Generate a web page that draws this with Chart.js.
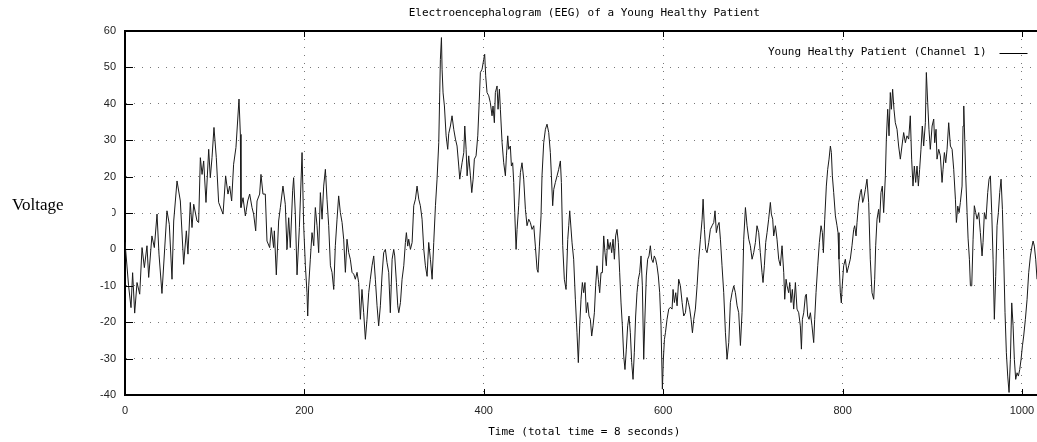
<!DOCTYPE html>
<html>
<head>
<meta charset="utf-8">
<script src="https://cdn.jsdelivr.net/npm/chart.js@4.4.1/dist/chart.umd.min.js"></script>
<style>
  html, body { margin: 0; padding: 0; background: #fff; overflow: hidden; }
  canvas { display: block; }
</style>
</head>
<body>
<canvas id="eeg" width="1045" height="442"></canvas>
<script>
const chartTitle = 'Electroencephalogram (EEG) of a Young Healthy Patient';
const seriesName = 'Young Healthy Patient (Channel 1)';
const xAxisTitle = 'Time (total time = 8 seconds)';
const yAxisTitle = 'Voltage';

const xTickValues = [0, 200, 400, 600, 800, 1000];
const yTickValues = [-40, -30, -20, -10, 0, 10, 20, 30, 40, 50, 60];

// sample index
const times = [
  0, 4, 6.7, 8.5, 10.8, 13.4, 16.4, 19, 21.6, 24.5,
  26.4, 30, 32.7, 35.7, 37.9, 41.2, 46.8, 49.4, 52.4, 54.3,
  58, 61.7, 65.4, 68.4, 70.2, 72.8, 74.7, 76.6, 80.3, 82.1,
  84, 85.9, 87.7, 90.3, 93.3, 95.1, 97, 99.2, 101.8, 104.4,
  109.3, 112.2, 114.8, 116.7, 118.9, 121.1, 123.7, 127.1, 128.6, 129.3,
  131.6, 134.2, 136.8, 139, 141.6, 143.4, 145.7, 147.2, 150.1, 151.6,
  153.8, 156.4, 158.3, 161.3, 163.1, 165.7, 166.5, 168.7, 171.3, 173.2,
  176.1, 178.7, 180.6, 182.5, 184.3, 186.9, 188, 189.9, 191.8, 194.4,
  197.4, 199.2, 201.1, 202.9, 203.7, 204.8, 206.6, 208.5, 210.4, 212.2,
  214.1, 215.9, 217.8, 219.7, 221.5, 223.4, 225.2, 227.1, 229, 230.8,
  232.7, 234.5, 236.4, 238.2, 240.1, 242, 243.8, 245.7, 247.5, 249.4,
  251.2, 253.1, 255, 256.8, 258.7, 260.5, 262.4, 264.2, 266.1, 268,
  269.8, 271.7, 273.5, 275.4, 277.3, 279.1, 281, 282.8, 284.7, 286.5,
  288.4, 290.3, 292.1, 294, 295.8, 297.8, 299.6, 300.7, 302.6, 304.1,
  305.2, 307.1, 308.9, 310.8, 312.6, 313.7, 315.2, 316.3, 318.2, 320.1,
  321.9, 323.8, 325.6, 327.5, 329.3, 331.2, 333.1, 334.9, 336.8, 338.6,
  340.5, 342.4, 344.2, 346.1, 347.9, 349.8, 350.9, 351.6, 352.8, 353.5,
  354.6, 356.1, 358, 359.8, 360.9, 362.8, 364.6, 366.5, 368.4, 370.2,
  372.1, 373.2, 374.7, 375.8, 377.7, 378.8, 380.3, 381.4, 383.2, 385.1,
  386.6, 388.1, 389.5, 391.4, 393.3, 394.7, 396.2, 398.1, 399.9, 401,
  402.1, 403.6, 405.5, 407.3, 409.2, 410.3, 411.8, 412.9, 414.8, 415.9,
  417.4, 418.5, 420.4, 422.2, 424.1, 425.2, 426.7, 427.8, 429.6, 430.8,
  432.2, 433.4, 434.5, 436, 437.1, 438.9, 440.8, 442.6, 444.5, 446.4,
  448.2, 450.1, 451.9, 453.8, 455.7, 457.5, 459.4, 460.5, 462, 463.8,
  464.9, 466.8, 468.7, 470.5, 472.4, 474.2, 475.4, 476.8, 478, 479.8,
  481.7, 483.5, 485.4, 486.5, 488, 489.8, 491.7, 493.6, 494.7, 495.8,
  498.4, 500.2, 502.1, 503.9, 505.4, 506.9, 508.4, 509.9, 511.4, 512.8,
  514.3, 515.8, 517.3, 518.8, 520.3, 521.8, 523.3, 524.7, 526.2, 527.7,
  529.2, 530.7, 532.2, 533.7, 535.1, 536.6, 538.1, 539.6, 541.1, 542.6,
  544.1, 545.6, 547, 548.5, 550, 551.5, 553, 554.5, 556, 557.4,
  558.9, 560.4, 561.9, 563.4, 564.9, 566.4, 567.8, 569.3, 570.8, 572.3,
  573.8, 575.3, 576.8, 578.3, 579.7, 581.2, 582.7, 584.2, 585.7, 587.2,
  588.7, 590.1, 591.6, 593.1, 594.6, 596.1, 597.6, 599.1, 600.2, 601.4,
  602.5, 604.3, 606.2, 608, 609.9, 611, 612.5, 614, 615.5, 617.3,
  619.2, 621.1, 622.9, 624.8, 626.6, 628.1, 629.6, 631.1, 632.6, 634.1,
  635.9, 637.8, 639.6, 641.5, 643.4, 644.5, 646, 647.4, 648.9, 650.8,
  652.6, 654.5, 656.4, 657.8, 659.3, 660.8, 662.3, 663.8, 665.6, 667.5,
  669.4, 671.2, 673.1, 674.9, 676.8, 678.7, 680.5, 682.4, 684.2, 686.1,
  687.9, 689.8, 691.7, 693.5, 695.4, 697.2, 699.1, 700.9, 702.8, 704.6,
  706.5, 708.3, 710.2, 711.3, 712.8, 714.3, 715.8, 717.6, 719.5, 720.6,
  722.1, 723.2, 725.1, 726.9, 728.8, 730.6, 732.5, 734.4, 735.5, 737,
  738.1, 739.9, 741.1, 742.5, 744, 745.5, 747.4, 749.2, 751.1, 752.9,
  754.1, 755.2, 756.7, 758.5, 759.6, 761.1, 762.6, 764.1, 765.9, 767.8,
  768.9, 770.4, 772.3, 774.1, 776, 777.5, 778.6, 780.1, 781.9, 783.4,
  784.9, 786.4, 787.5, 788.6, 790.1, 792, 793.8, 794.9, 796, 797.5,
  798.6, 799.4, 801.2, 803.1, 804.9, 806.8, 808.6, 810.5, 812.4, 813.5,
  815, 816.1, 817.9, 819.8, 820.9, 822.4, 823.5, 825.4, 827.2, 829.1,
  830.9, 832.8, 834.7, 835.8, 836.9, 838.4, 840.2, 841.3, 842.8, 844.3,
  845.8, 847.7, 848.8, 850.3, 851.8, 853.2, 854.4, 855.8, 857.3, 858.8,
  860.7, 862.5, 864.4, 866.2, 868.1, 870, 871.8, 873.7, 875.5, 877,
  878.5, 880, 881.5, 883, 884.5, 885.9, 887.4, 888.9, 890.4, 892.3,
  893.4, 894.9, 896.3, 897.8, 899.8, 901.6, 902.7, 904.2, 905.3, 907.2,
  909, 910.9, 912, 913.5, 915, 916.5, 918.3, 920.2, 922.1, 923.9,
  925.8, 926.9, 928.4, 929.9, 931.3, 933.2, 934.3, 935.1, 936.2, 937.3,
  938.8, 939.9, 941.4, 942.5, 944, 945.5, 946.9, 948.4, 949.9, 951.8,
  953.6, 955.5, 956.6, 958.1, 959.9, 961.8, 963.3, 964.8, 966.3, 967.8,
  969.2, 970.7, 972.2, 973.7, 975.2, 976.7, 978.2, 979.7, 981.1, 982.6,
  984.1, 985.6, 987.1, 988.6, 990.1, 991.5, 993, 994.5, 996, 997.5,
  999, 1000.5, 1001.9, 1003.8, 1005.7, 1007.5, 1009.4, 1011.2, 1012.4, 1013.8,
  1015.3, 1016.8
];

// voltage at each sample above
const voltages = [
  2, -10, -16, -6.4, -17.5, -9.1, -12.3, 0.5, -5, 1,
  -7.7, 3.7, 0.5, 9.7, -1.3, -12.1, 10.6, 6.9, -8.2, 7.8,
  18.8, 13.3, -4.1, 5.1, -1.3, 12.9, 6, 12.4, 7.8, 7.4,
  25.2, 20.6, 24.3, 12.9, 27.5, 19.7, 25.2, 33.5, 25.2, 12.9,
  9.7, 20.2, 15.2, 17.4, 13.3, 23.4, 28, 41.3, 31.6, 11.5,
  14.2, 9.2, 13.3, 15.2, 11.5, 9.7, 5.1, 13.3, 15.2, 20.6,
  15.2, 15.2, 2.3, 0.5, 6, 0.5, 5.1, -7, 7.8, 11.5,
  17.4, 12.4, 0, 8.7, 0.5, 16.1, 19.7, 9.7, -7, 6,
  26.6, 6.5, -4.5, -11.9, -18.3, -10, -2.7, 4.6, 1, 11.5,
  6.5, -0.9, 15.6, 8.3, 17.4, 22, 13.8, 6.5, -4.5, -6.3,
  -11, 1, 8.3, 14.7, 10.1, 7.4, 2.8, -6.3, 2.8, -0.9,
  -2.7, -6.3, -6.8, -8.2, -6.3, -9.1, -19.2, -11, -17.4, -24.7,
  -19.2, -11.9, -8.2, -4.5, -1.8, -8.2, -15.5, -21, -15.5, -7.3,
  -0.9, 0, -3.6, -6.3, -17.4, -2.7, 0, -1.8, -9.1, -15.5,
  -17.4, -14.6, -8.2, -4.5, 1.9, 4.6, 0.9, 2.8, 0, 1.9,
  12, 13.8, 17.4, 13.8, 12, 8.3, 0, -4.5, -7.4, 1.9,
  -2.7, -8.2, 1.9, 12, 19.3, 29.3, 43, 52.2, 58.2, 49.5,
  43, 39.4, 31.2, 27.5, 31.8, 33.9, 36.7, 33, 30.3, 28.4,
  22.9, 19.3, 22, 23.8, 26.6, 33.9, 27.5, 20.2, 25.7, 20.2,
  15.6, 19.3, 24.8, 25.7, 31.2, 39.4, 48.6, 49.5, 52.2, 53.6,
  47.7, 43.1, 42.2, 40.3, 36.7, 39.4, 34.8, 43.1, 44.9, 38.5,
  44, 38.5, 29.3, 23.8, 20.2, 25.7, 31.2, 27.5, 28.4, 22.9,
  23.8, 18.4, 10.1, 0, 5.5, 12, 21.1, 23.8, 19.3, 11,
  6.5, 8.3, 7.4, 5.5, 6.5, 0.9, -5.5, -6.3, 0.9, 9.2,
  20.2, 29.3, 33, 34.4, 32.1, 26.6, 20.2, 12, 16.5, 18.4,
  20.2, 22, 24.3, 18.4, 1, -8.2, -11, 2.7, 6.5, 10.6,
  1.8, -2.7, -13.7, -22.9, -31.1, -21, -13.7, -9.1, -11.9, -9.1,
  -17.4, -14.6, -18.3, -19.2, -23.8, -21, -17.4, -10, -4.5, -8.2,
  -11.9, -6.4, -6.4, 3.7, -0.9, -4.5, 2.8, 0, 1.9, -0.9,
  2.8, -2.7, 3.7, 5.5, 1.9, -6.4, -14.7, -21, -29.3, -33,
  -27.4, -21, -18.3, -22.9, -31.1, -35.7, -28.4, -18.3, -11.9, -8.2,
  -6.4, -1.8, -10, -30.2, -18.3, -7.3, -2.7, -1.8, 1, -2.7,
  -3.6, -1.8, -2.7, -4.5, -7.3, -11.9, -21, -38.4, -30.2, -24.7,
  -22.9, -19.2, -16.4, -15.9, -16.4, -11, -14.6, -11.9, -15.5, -8.2,
  -10, -14.6, -18.3, -17.4, -13.2, -14.6, -16.4, -19.2, -22.9, -19.2,
  -16.4, -10, -2.7, 2.8, 8.3, 13.8, 5.5, 0, -0.9, 1.9,
  5.5, 6.5, 7.4, 10.6, 4.6, 6.5, 7.4, 2.8, -4.5, -11.9,
  -22.9, -30.2, -25.6, -14.6, -11.9, -10, -11.9, -15.5, -17.4, -26.4,
  -17.4, 2.8, 11.5, 6.5, 2.8, 1, -2.7, -0.9, 1.9, 6.5,
  4.6, -0.9, -6.4, -9.1, -4.5, 1.9, 4.6, 8.3, 12.9, 9.7,
  8.3, 3.7, 6.5, 2.8, -2.7, -4.5, 1, -6.4, -13.7, -8.2,
  -10, -11.9, -9.1, -14.6, -11, -16.4, -9.1, -16.4, -17.4, -21,
  -27.4, -19.2, -17.4, -12.8, -12.3, -18.3, -19.2, -17.4, -21, -25.6,
  -19.2, -11.9, -4.5, 1.9, 6.5, 4.6, -0.9, 8.3, 17.4, 22,
  24.8, 28.4, 26.6, 20.2, 15.6, 9.2, 6.5, 4.6, -2.7, -11.9,
  -14.7, -10.9, -4.5, -2.7, -6.4, -4.5, -2.7, 1, 5.5, 6.5,
  3.7, 7.4, 12.8, 15.6, 16.5, 12.9, 13.8, 16.5, 19.3, 12.9,
  -2.7, -11.9, -13.7, -8.2, 1, 8.3, 11, 7.4, 15.6, 17.4,
  10.1, 20.2, 30.3, 38.5, 31.2, 43.1, 38.5, 44, 38.5, 34.8,
  33, 28.4, 24.8, 28.4, 32.1, 29.3, 31.2, 30.3, 36.7, 24.8,
  17.4, 22.9, 18.4, 22.9, 17.4, 22, 27.5, 33.9, 28.4, 34.8,
  48.6, 40.3, 33, 27.5, 33.9, 35.8, 29.3, 33, 24.8, 27.5,
  25.7, 18.4, 22, 26.6, 23.8, 27.5, 34.8, 28.4, 27.5, 22,
  13.8, 7.4, 11.9, 10.1, 12.9, 17.4, 33.9, 39.4, 30.3, 20.2,
  10.1, 3.1, -2.7, -10, -10, 2.8, 12, 10.1, 8.3, 10.1,
  4.6, -1.8, 1.9, 10.1, 8.3, 15.6, 19.3, 20.2, 10.1, -2.7,
  -19.2, -7.4, 6.5, 10.1, 15.6, 19.3, 11, -2.7, -17.4, -28.4,
  -34.8, -39.3, -30.2, -14.7, -21, -30.2, -35.7, -33.9, -34.8, -33,
  -30.2, -26.5, -23.8, -19.2, -13.7, -6.4, -1.8, 0.9, 2.3, 0.9,
  -2.7, -8.2
];

// gnuplot-like frame: top border, inward ticks, titles, legend
const framePlugin = {
    id: 'frame',
    afterDraw(chart) {
        const {ctx, chartArea: area, scales} = chart;
        const cx = (area.left + area.right) / 2;
        ctx.save();

        ctx.strokeStyle = '#000';
        ctx.lineWidth = 2;
        ctx.beginPath();
        ctx.moveTo(area.left - 1, area.top);
        ctx.lineTo(area.right, area.top);
        ctx.stroke();

        ctx.lineWidth = 1;
        ctx.beginPath();
        yTickValues.forEach(v => {
            const py = Math.round(scales.y.getPixelForValue(v)) + 0.5;
            ctx.moveTo(area.left, py);
            ctx.lineTo(area.left + 8, py);
        });
        xTickValues.forEach(v => {
            const px = Math.round(scales.x.getPixelForValue(v)) + 0.5;
            ctx.moveTo(px, area.bottom);
            ctx.lineTo(px, area.bottom - 6);
            ctx.moveTo(px, area.top);
            ctx.lineTo(px, area.top + 6);
        });
        ctx.stroke();

        ctx.fillStyle = '#000';
        ctx.font = '11px "DejaVu Sans Mono"';
        ctx.textAlign = 'center';
        ctx.textBaseline = 'middle';
        ctx.fillText(chartTitle, cx, 13);
        ctx.fillText(xAxisTitle, cx, 432);

        ctx.textAlign = 'right';
        ctx.fillText(seriesName, area.right - 57, 52);
        ctx.beginPath();
        ctx.moveTo(area.right - 44, 53.5);
        ctx.lineTo(area.right - 16, 53.5);
        ctx.stroke();

        // the y title sits on a white box that hides part of the "10" label
        ctx.fillStyle = '#fff';
        ctx.fillRect(0, 200, 112, 22);
        ctx.fillStyle = '#000';
        ctx.font = '17px "Liberation Serif"';
        ctx.textAlign = 'left';
        ctx.fillText(yAxisTitle, 12, 206);

        ctx.restore();
    }
};

const tickFont = {family: 'Liberation Sans', size: 11};

new Chart(document.getElementById('eeg'), {
    type: 'line',
    data: {
        datasets: [{
            label: seriesName,
            data: times.map((t, i) => ({x: t, y: voltages[i]})),
            borderColor: '#1a1a1a',
            borderWidth: 1,
            pointRadius: 0,
            tension: 0,
            fill: false
        }]
    },
    options: {
        responsive: false,
        animation: false,
        devicePixelRatio: 1,
        layout: {padding: {top: 31, right: 1.5, bottom: 0, left: 0}},
        plugins: {
            legend: {display: false},
            title: {display: false},
            tooltip: {enabled: false}
        },
        scales: {
            x: {
                type: 'linear',
                min: 0,
                max: 1024,
                afterFit: (scale) => { scale.height = 47; },
                afterBuildTicks: (scale) => { scale.ticks = xTickValues.map(v => ({value: v})); },
                ticks: {
                    callback: (v) => String(v),
                    autoSkip: false,
                    maxRotation: 0,
                    padding: 9,
                    color: '#222',
                    font: tickFont
                },
                grid: {color: '#777', lineWidth: 1, drawTicks: false},
                border: {display: true, color: '#000', width: 2, dash: [1, 7]}
            },
            y: {
                min: -40,
                max: 60,
                afterFit: (scale) => { scale.width = 125; },
                afterBuildTicks: (scale) => { scale.ticks = yTickValues.map(v => ({value: v})); },
                ticks: {
                    callback: (v) => String(v),
                    padding: 9,
                    color: '#222',
                    font: tickFont
                },
                grid: {color: '#777', lineWidth: 1, drawTicks: false},
                border: {display: true, color: '#000', width: 2, dash: [1, 7]}
            }
        }
    },
    plugins: [framePlugin]
});
</script>
</body>
</html>
